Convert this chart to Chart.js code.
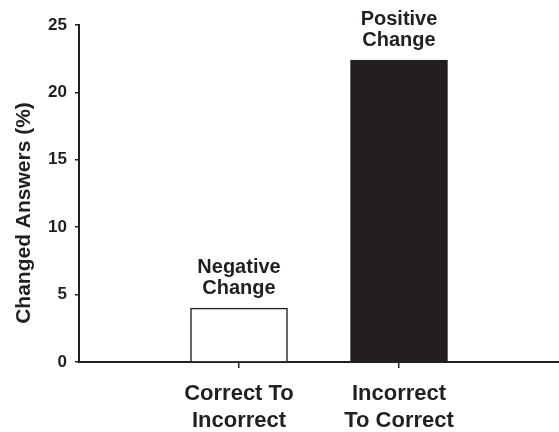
<!DOCTYPE html>
<html>
<head>
<meta charset="utf-8">
<script src="https://cdn.jsdelivr.net/npm/chart.js@4"></script>
<style>
  html, body { margin: 0; padding: 0; background: #fff; }
  #wrap { width: 559px; height: 432px; }
</style>
</head>
<body>
<div id="wrap"><canvas id="chart"></canvas></div>
<script>
// empty slots at both ends give the wide margins around the two bars
const categories = ["", ["Correct To", "Incorrect"], ["Incorrect", "To Correct"], ""];
const changedAnswers = [null, 4.0, 22.4, null];
const barNotes = [null, ["Negative", "Change"], ["Positive", "Change"], null];
const yTicks = [0, 5, 10, 15, 20, 25];
const yTitle = "Changed Answers (%)";

const INK = "#231f20";
const FONT = "'Liberation Sans', Arial, Helvetica, sans-serif";

// writes the two-line note above each bar
const barNotesPlugin = {
    id: "barNotes",
    afterDatasetsDraw(chart) {
        const ctx = chart.ctx;
        const meta = chart.getDatasetMeta(0);
        ctx.save();
        ctx.fillStyle = INK;
        ctx.font = "bold 20px " + FONT;
        ctx.textAlign = "center";
        ctx.textBaseline = "middle";
        meta.data.forEach((bar, i) => {
            const note = barNotes[i];
            if (!note || changedAnswers[i] == null) return;
            ctx.fillText(note[0], bar.x, bar.y - 41);
            ctx.fillText(note[1], bar.x, bar.y - 20);
        });
        ctx.restore();
    }
};

// y title sits a bit lower than the axis centre, so draw it by hand
const yTitlePlugin = {
    id: "yTitle",
    afterDraw(chart) {
        const ctx = chart.ctx;
        ctx.save();
        ctx.translate(24, chart.height / 2 - 3);
        ctx.rotate(-Math.PI / 2);
        ctx.fillStyle = INK;
        ctx.font = "bold 21px " + FONT;
        ctx.textAlign = "center";
        ctx.textBaseline = "middle";
        ctx.fillText(yTitle, 0, 0);
        ctx.restore();
    }
};

const ctx = document.getElementById("chart").getContext("2d");

new Chart(ctx, {
    type: "bar",
    data: {
        labels: categories,
        datasets: [{
            data: changedAnswers,
            backgroundColor: ["#ffffff", "#ffffff", INK, "#ffffff"],
            borderColor: INK,
            borderWidth: 1.5,
            barThickness: 97
        }]
    },
    options: {
        responsive: true,
        maintainAspectRatio: false,
        animation: false,
        layout: { padding: { top: 25, right: -5, left: 0, bottom: 0 } },
        plugins: {
            legend: { display: false },
            tooltip: { enabled: false }
        },
        scales: {
            x: {
                offset: false,
                border: { display: true, color: INK, width: 2 },
                grid: {
                    offset: false,
                    drawOnChartArea: false,
                    drawTicks: true,
                    tickLength: 6,
                    lineWidth: 1.5,
                    color: (c) => (categories[c.index] === "" ? "rgba(0,0,0,0)" : INK)
                },
                ticks: {
                    color: INK,
                    padding: 13,
                    autoSkip: false,
                    maxRotation: 0,
                    font: { family: FONT, size: 22, weight: "bold", lineHeight: 1.2 }
                },
                afterFit(scale) {
                    scale.height = 70;
                    scale.paddingLeft = 0;
                    scale.paddingRight = 0;
                }
            },
            y: {
                min: 0,
                max: 25,
                border: { display: true, color: INK, width: 2 },
                grid: {
                    drawOnChartArea: false,
                    drawTicks: true,
                    tickLength: 4,
                    lineWidth: 1.5,
                    color: INK
                },
                afterBuildTicks(scale) {
                    scale.ticks = yTicks.map(v => ({ value: v }));
                },
                ticks: {
                    color: INK,
                    padding: 8,
                    font: { family: FONT, size: 17, weight: "bold" }
                },
                title: { display: false },
                afterFit(scale) { scale.width = 79; }
            }
        }
    },
    plugins: [barNotesPlugin, yTitlePlugin]
});
</script>
</body>
</html>
